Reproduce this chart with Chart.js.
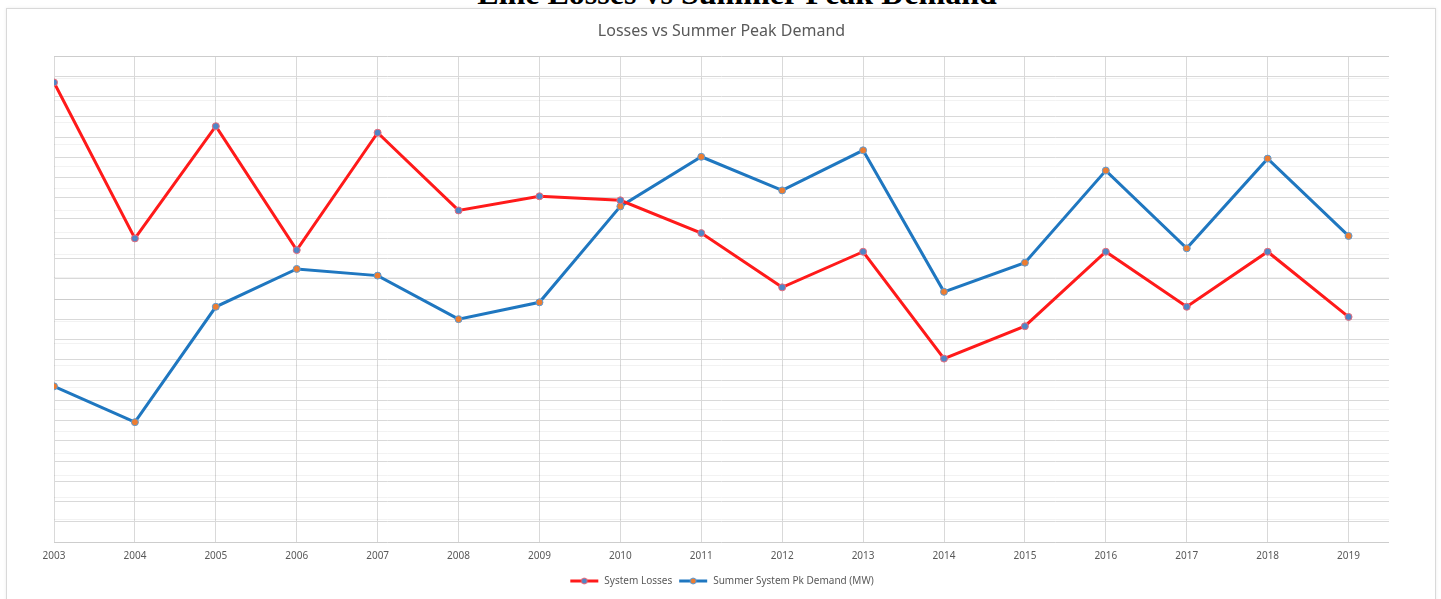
<!DOCTYPE html>
<html>
<head>
<meta charset="utf-8">
<script src="https://cdn.jsdelivr.net/npm/chart.js@4"></script>
<style>
  html, body { margin: 0; padding: 0; background: #fff; overflow: hidden; }
  #page { position: relative; width: 1441px; height: 599px; overflow: hidden; }
  #heading {
    position: absolute; left: 0; width: 1474px; top: -23px;
    text-align: center; font: bold 32px "Liberation Serif", "DejaVu Serif", serif;
    line-height: 32px; color: #000;
  }
  #frame {
    position: absolute; left: 6px; top: 8px; width: 1428px; height: 620px;
    border: 1px solid #d9d9d9; box-shadow: 0 0 3px rgba(0,0,0,0.08); background: #fff;
  }
  #wrap { position: absolute; left: 0; top: 0; width: 1441px; height: 596px; }
</style>
</head>
<body>
<div id="page">
  <div id="frame"></div>
  <div id="heading">Line Losses vs Summer Peak Demand</div>
  <div id="wrap"><canvas id="chart"></canvas></div>
</div>
<script>
// values (no axis labels in the source, units estimated)
const years = [2003, 2004, 2005, 2006, 2007, 2008, 2009, 2010, 2011, 2012, 2013, 2014, 2015, 2016, 2017, 2018, 2019];
const systemLosses = [11.35, 7.50, 10.27, 7.21, 10.11, 8.19, 8.54, 8.44, 7.63, 6.29, 7.17, 4.53, 5.33, 7.17, 5.81, 7.17, 5.56];
const peakDemand = [769, 592, 1162, 1349, 1316, 1101, 1184, 1658, 1903, 1737, 1935, 1236, 1380, 1835, 1451, 1894, 1512];

const seriesNames = ['System Losses', 'Summer System Pk Demand (MW)'];

// small line + dot marker for the legend, like the Excel one
function legendMarker(lineColor, dotColor, ringColor) {
    const c = document.createElement('canvas');
    c.width = 30;
    c.height = 10;
    const g = c.getContext('2d');
    g.strokeStyle = lineColor;
    g.lineWidth = 3;
    g.beginPath();
    g.moveTo(1, 5);
    g.lineTo(29, 5);
    g.stroke();
    g.fillStyle = dotColor;
    g.strokeStyle = ringColor;
    g.lineWidth = 1;
    g.beginPath();
    g.arc(15, 5, 3, 0, Math.PI * 2);
    g.fill();
    g.stroke();
    return c;
}

const redLine = '#ff1a1a';
const blueLine = '#1f77c0';
const markers = [
    legendMarker(redLine, '#4f86c6', '#e86b7a'),
    legendMarker(blueLine, '#ed7d31', '#5b9bd5')
];

const ctx = document.getElementById('chart').getContext('2d');
new Chart(ctx, {
    type: 'line',
    data: {
        datasets: [
            {
                label: seriesNames[0],
                data: years.map((y, i) => ({ x: y, y: systemLosses[i] })),
                borderColor: redLine,
                borderWidth: 3,
                pointRadius: 3.5,
                pointBackgroundColor: '#4f86c6',
                pointBorderColor: '#e86b7a',
                pointBorderWidth: 1,
                tension: 0,
                yAxisID: 'y'
            },
            {
                label: seriesNames[1],
                data: years.map((y, i) => ({ x: y, y: peakDemand[i] })),
                borderColor: blueLine,
                borderWidth: 3,
                pointRadius: 3.5,
                pointBackgroundColor: '#ed7d31',
                pointBorderColor: '#5b9bd5',
                pointBorderWidth: 1,
                tension: 0,
                yAxisID: 'y2'
            }
        ]
    },
    options: {
        responsive: true,
        maintainAspectRatio: false,
        animation: false,
        layout: { padding: { left: 54, right: 52, top: 0, bottom: 0 } },
        scales: {
            x: {
                type: 'linear',
                min: 2003,
                max: 2019.5,
                afterBuildTicks: (scale) => { scale.ticks = years.map(v => ({ value: v })); },
                grid: { color: '#d9d9d9', drawTicks: false },
                border: { display: false },
                ticks: {
                    padding: 8,
                    color: '#595959',
                    font: { family: 'Noto Sans', size: 10 },
                    maxRotation: 0,
                    autoSkip: false,
                    callback: (v) => String(v)
                }
            },
            y: {
                position: 'left',
                min: 0,
                max: 12,
                ticks: { display: false, stepSize: 0.5 },
                grid: { color: '#d9d9d9', drawTicks: false },
                border: { display: false }
            },
            y2: {
                position: 'right',
                min: 0,
                max: 2400,
                ticks: { display: false, stepSize: 2400 / 22 },
                grid: { color: 'rgba(0,0,0,0.05)', drawTicks: false },
                border: { display: false }
            }
        },
        plugins: {
            title: {
                display: true,
                text: 'Losses vs Summer Peak Demand',
                color: '#595959',
                font: { family: 'Noto Sans', size: 16, weight: 'normal' },
                padding: { top: 22, bottom: 15 }
            },
            legend: {
                position: 'bottom',
                labels: {
                    usePointStyle: true,
                    pointStyleWidth: 30,
                    color: '#595959',
                    font: { family: 'Noto Sans', size: 10 },
                    padding: 6,
                    generateLabels: (chart) => chart.data.datasets.map((ds, i) => ({
                        text: ds.label,
                        pointStyle: markers[i],
                        fontColor: '#595959',
                        datasetIndex: i,
                        hidden: false,
                        lineWidth: 0
                    }))
                }
            },
            tooltip: { enabled: false }
        }
    }
});
</script>
</body>
</html>
